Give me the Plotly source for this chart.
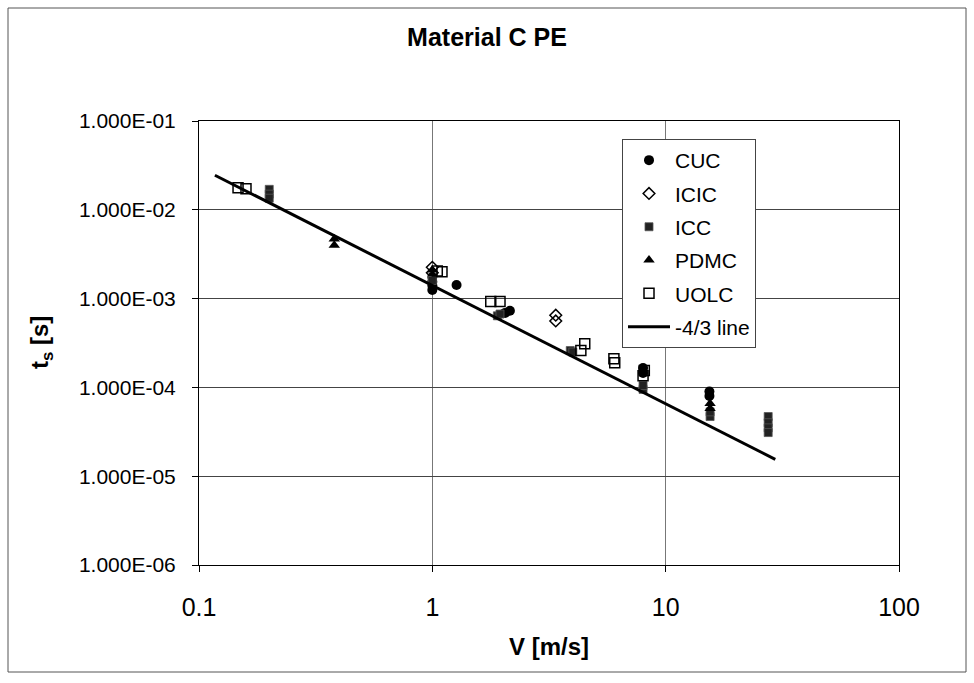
import plotly.graph_objects as go

# ---- data ----
cuc_v  = [1.0, 1.0, 1.0, 1.0, 1.27, 2.05, 2.15, 8.0, 8.0, 15.4, 15.4]
cuc_t  = [1.25e-3, 1.4e-3, 1.55e-3, 1.75e-3, 1.42e-3, 6.9e-4, 7.3e-4, 1.65e-4, 1.45e-4, 9.0e-5, 8.0e-5]

icic_v = [1.0, 1.0, 3.38, 3.38]
icic_t = [2.25e-3, 1.95e-3, 6.5e-4, 5.6e-4]

icc_v  = [0.2, 0.2, 0.2, 1.0, 1.9, 1.95, 3.9, 4.0, 8.0, 8.0, 15.5, 15.5, 27.5, 27.5, 27.5, 27.5]
icc_t  = [1.7e-2, 1.5e-2, 1.35e-2, 1.6e-3, 6.4e-4, 6.7e-4, 2.6e-4, 2.5e-4, 9.5e-5, 1.05e-4,
          4.7e-5, 5.3e-5, 4.7e-5, 4.0e-5, 3.5e-5, 3.1e-5]

pdmc_v = [0.38, 0.38, 1.0, 15.5, 15.5]
pdmc_t = [4.7e-3, 4.0e-3, 2.1e-3, 6.6e-5, 5.8e-5]

uolc_v = [0.147, 0.159, 1.05, 1.1, 1.78, 1.95, 4.33, 4.5, 6.0, 6.05, 8.0, 8.1]
uolc_t = [1.77e-2, 1.73e-2, 2.05e-3, 2.0e-3, 9.3e-4, 9.3e-4, 2.6e-4, 3.1e-4, 2.1e-4, 1.9e-4, 1.35e-4, 1.55e-4]

line_v = [0.117, 29.5]
line_t = [2.45e-2, 1.55e-5]

x_ticks = [0.1, 1, 10, 100]
x_ticktext = ["0.1", "1", "10", "100"]
y_ticks = [1e-1, 1e-2, 1e-3, 1e-4, 1e-5, 1e-6]
y_ticktext = ["1.000E-01", "1.000E-02", "1.000E-03", "1.000E-04", "1.000E-05", "1.000E-06"]

FONT = "Liberation Sans, Arial, sans-serif"

fig = go.Figure()
fig.add_trace(go.Scatter(x=cuc_v, y=cuc_t, mode="markers", name="CUC", legendgroup="a",
                         marker=dict(symbol="circle", size=10, color="black")))
fig.add_trace(go.Scatter(x=icic_v, y=icic_t, mode="markers", name="ICIC", legendgroup="b",
                         marker=dict(symbol="diamond-open", size=9, color="black",
                                     line=dict(width=1.5, color="black"))))
fig.add_trace(go.Scatter(x=icc_v, y=icc_t, mode="markers", name="ICC", legendgroup="c",
                         marker=dict(symbol="square", size=8, color="#222",
                                     line=dict(width=0.8, color="#555"))))
fig.add_trace(go.Scatter(x=pdmc_v, y=pdmc_t, mode="markers", name="PDMC", legendgroup="d",
                         marker=dict(symbol="triangle-up", size=10, color="black")))
fig.add_trace(go.Scatter(x=uolc_v, y=uolc_t, mode="markers", name="UOLC", legendgroup="e",
                         marker=dict(symbol="square-open", size=10, color="black",
                                     line=dict(width=1.5, color="black"))))
fig.add_trace(go.Scatter(x=line_v, y=line_t, mode="lines", name="-4/3 line", legendgroup="f",
                         line=dict(color="black", width=3)))

fig.update_layout(
    width=974, height=683,
    margin=dict(l=199, r=75, t=121, b=118),
    paper_bgcolor="white", plot_bgcolor="white",
    font=dict(family=FONT, color="black"),
    title=dict(text="<b>Material C PE</b>", x=0.5, xref="container", xanchor="center",
               y=1 - 37 / 683, yref="container", yanchor="middle",
               font=dict(size=25, family=FONT, color="black")),
    showlegend=True,
    legend=dict(x=(622 - 199) / 700, y=(565 - 139) / 444, xanchor="left", yanchor="top",
                bgcolor="white", bordercolor="#444", borderwidth=1,
                font=dict(size=21, family=FONT, color="black"),
                tracegroupgap=3, itemwidth=42),
)

fig.update_xaxes(type="log", range=[-1, 2], tickvals=x_ticks, ticktext=x_ticktext,
                 tickfont=dict(size=25, family=FONT), ticks="outside", ticklen=6,
                 ticklabelstandoff=14,
                 tickcolor="black", showline=True, linecolor="black", linewidth=1, mirror=True,
                 showgrid=True, gridcolor="#777", gridwidth=1, zeroline=False)
fig.update_yaxes(type="log", range=[-6, -1], tickvals=y_ticks, ticktext=y_ticktext,
                 tickfont=dict(size=21, family=FONT), ticks="outside", ticklen=6,
                 ticklabelstandoff=12,
                 tickcolor="black", showline=True, linecolor="black", linewidth=1, mirror=True,
                 showgrid=True, gridcolor="#444", gridwidth=1, zeroline=False)

# axis titles
fig.add_annotation(text="<b>V [m/s]</b>", xref="paper", yref="paper",
                   x=0.5, y=(565 - 646) / 444, xanchor="center", yanchor="middle",
                   showarrow=False, font=dict(size=24, family=FONT, color="black"))
fig.add_annotation(text="<b>t<sub>s</sub> [s]</b>", xref="paper", yref="paper",
                   x=(41 - 199) / 700, y=(565 - 343) / 444, xanchor="center", yanchor="middle",
                   textangle=-90, showarrow=False, font=dict(size=24, family=FONT, color="black"))

# outer chart frame
fig.add_shape(type="rect", xref="paper", yref="paper",
              x0=(8 - 199) / 700, x1=(966 - 199) / 700,
              y0=(565 - 672) / 444, y1=(565 - 8) / 444,
              line=dict(color="#555", width=1), layer="below")

fig.write_html("out.html")
